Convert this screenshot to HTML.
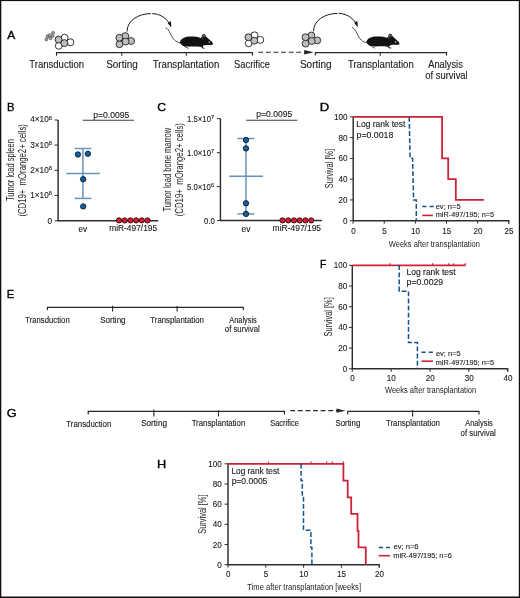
<!DOCTYPE html>
<html><head><meta charset="utf-8"><style>
html,body{margin:0;padding:0;background:#fff;}
svg{display:block;will-change:transform;}
text{font-family:"Liberation Sans",sans-serif;stroke:#1c1c1c;stroke-width:0.12px;}
</style></head><body>
<svg width="520" height="598" viewBox="0 0 520 598">
<rect width="520" height="598" fill="#fff"/>
<rect x="0" y="0" width="520" height="1.1" fill="#141012"/>
<rect x="0" y="0" width="1.3" height="598" fill="#141012"/>
<rect x="518.8" y="0" width="1.2" height="598" fill="#141012"/>
<rect x="0" y="596.5" width="520" height="1.5" fill="#141012"/>
<text x="7.33" y="38.70" font-size="11.5" fill="#000" textLength="7.95" lengthAdjust="spacingAndGlyphs" style="stroke:#000;stroke-width:0.34px">A</text>
<text x="7.08" y="110.80" font-size="11.5" fill="#000" textLength="7.52" lengthAdjust="spacingAndGlyphs" style="stroke:#000;stroke-width:0.34px">B</text>
<text x="157.23" y="110.70" font-size="11.5" fill="#000" textLength="8.78" lengthAdjust="spacingAndGlyphs" style="stroke:#000;stroke-width:0.34px">C</text>
<text x="319.87" y="110.80" font-size="11.5" fill="#000" textLength="9.51" lengthAdjust="spacingAndGlyphs" style="stroke:#000;stroke-width:0.34px">D</text>
<text x="6.63" y="297.70" font-size="11.5" fill="#000" textLength="7.51" lengthAdjust="spacingAndGlyphs" style="stroke:#000;stroke-width:0.34px">E</text>
<text x="320.09" y="268.10" font-size="11.5" fill="#000" textLength="6.37" lengthAdjust="spacingAndGlyphs" style="stroke:#000;stroke-width:0.34px">F</text>
<text x="6.71" y="417.20" font-size="11.5" fill="#000" textLength="9.89" lengthAdjust="spacingAndGlyphs" style="stroke:#000;stroke-width:0.34px">G</text>
<text x="157.11" y="468.00" font-size="11.5" fill="#000" textLength="9.18" lengthAdjust="spacingAndGlyphs" style="stroke:#000;stroke-width:0.34px">H</text>
<path d="M56.5,55.8 V52.6 H252.5 V55.6" stroke="#262626" stroke-width="1.15" fill="none"/>
<line x1="121.8" y1="52.6" x2="121.8" y2="55.8" stroke="#262626" stroke-width="1.0"/>
<line x1="186.3" y1="52.6" x2="186.3" y2="55.8" stroke="#262626" stroke-width="1.0"/>
<line x1="258.3" y1="52.25" x2="305" y2="52.25" stroke="#262626" stroke-width="1.2" stroke-dasharray="4.8 2.8"/>
<polygon points="304.2,50.1 313.6,52.25 304.2,54.4" fill="#262626"/>
<path d="M315.4,55.6 V52.6 H446.5 V55.6" stroke="#262626" stroke-width="1.15" fill="none"/>
<line x1="380.2" y1="52.6" x2="380.2" y2="55.8" stroke="#262626" stroke-width="1.0"/>
<circle cx="64.6" cy="37.7" r="3.45" fill="#fff" stroke="#2a2a2a" stroke-width="0.95"/>
<circle cx="70.4" cy="42.3" r="3.45" fill="#fff" stroke="#2a2a2a" stroke-width="0.95"/>
<circle cx="58.8" cy="45.8" r="3.45" fill="#fff" stroke="#2a2a2a" stroke-width="0.95"/>
<circle cx="64.4" cy="43.1" r="3.45" fill="#bdbec0" stroke="#2a2a2a" stroke-width="0.95"/>
<circle cx="58.5" cy="39.6" r="3.45" fill="#bdbec0" stroke="#2a2a2a" stroke-width="0.95"/>
<g fill="#a8a8a8" stroke="#333" stroke-width="0.6"><circle cx="53.1" cy="32.9" r="1.45"/><circle cx="52.6" cy="36.2" r="1.3"/><circle cx="50.5" cy="38.5" r="1.25"/><circle cx="46.4" cy="39.5" r="1.4"/><circle cx="47.6" cy="36.4" r="1.6"/><circle cx="49.6" cy="35.2" r="1.55"/></g>
<circle cx="125.3" cy="36.1" r="3.45" fill="#bdbec0" stroke="#2a2a2a" stroke-width="0.95"/>
<circle cx="131.1" cy="41" r="3.45" fill="#bdbec0" stroke="#2a2a2a" stroke-width="0.95"/>
<circle cx="119.5" cy="44.2" r="3.45" fill="#bdbec0" stroke="#2a2a2a" stroke-width="0.95"/>
<circle cx="119.4" cy="37.8" r="3.45" fill="#bdbec0" stroke="#2a2a2a" stroke-width="0.95"/>
<circle cx="125.6" cy="41.6" r="3.45" fill="#bdbec0" stroke="#2a2a2a" stroke-width="0.95"/>
<circle cx="254.5" cy="35.300000000000004" r="3.45" fill="#fff" stroke="#2a2a2a" stroke-width="0.95"/>
<circle cx="260.3" cy="39.9" r="3.45" fill="#fff" stroke="#2a2a2a" stroke-width="0.95"/>
<circle cx="248.7" cy="43.4" r="3.45" fill="#fff" stroke="#2a2a2a" stroke-width="0.95"/>
<circle cx="254.3" cy="40.7" r="3.45" fill="#bdbec0" stroke="#2a2a2a" stroke-width="0.95"/>
<circle cx="248.4" cy="37.2" r="3.45" fill="#bdbec0" stroke="#2a2a2a" stroke-width="0.95"/>
<circle cx="311.4" cy="35.50000000000001" r="3.45" fill="#bdbec0" stroke="#2a2a2a" stroke-width="0.95"/>
<circle cx="317.2" cy="40.400000000000006" r="3.45" fill="#bdbec0" stroke="#2a2a2a" stroke-width="0.95"/>
<circle cx="305.6" cy="43.60000000000001" r="3.45" fill="#bdbec0" stroke="#2a2a2a" stroke-width="0.95"/>
<circle cx="305.5" cy="37.2" r="3.45" fill="#bdbec0" stroke="#2a2a2a" stroke-width="0.95"/>
<circle cx="311.7" cy="41.00000000000001" r="3.45" fill="#bdbec0" stroke="#2a2a2a" stroke-width="0.95"/>
<g transform="translate(0,0)">
<path d="M127,31.6 C127,20.8 138,13.7 150.9,13.6" stroke="#1a1a1a" stroke-width="1.0" fill="none"/>
<path d="M152.2,13.62 C159.6,13.8 165.3,17.4 169.2,23" stroke="#1a1a1a" stroke-width="1.0" fill="none"/>
<polygon points="167.6,22.9 170.9,21.2 171.3,27.5" fill="#111"/>
<path d="M165.6,27.6 C167.5,28.5 169,30.5 170.3,33.3 C171.6,36.2 172.8,38.5 174.7,40.2 C176.3,41.6 178,42.5 180.5,42.9" stroke="#111" stroke-width="0.75" fill="none"/>
<path d="M179.9,42 C180.5,40 181.5,38.8 183.5,37.9 C185.5,37 188,36.6 191,36.6 C195,36.6 198,37 200.5,38 L201.6,37.2 C201.5,35.5 202.5,34 203.8,34 C205,34 205.8,35 206,36.5 C207.5,38 209.5,39.5 211,41 C212.2,42 213,43 213,44 C212.6,44.8 211.5,45.2 210,45.1 C208,45 205.5,45.1 203.5,45.6 L202.6,46.6 L203.3,47.7 L205,48 L204.7,48.6 L202.5,48.4 L201.2,47 C198,46.4 193,46.6 189.6,46.6 C187,46.6 185.3,46.5 184.2,46.2 C183.5,46.3 181.7,45.2 180.6,43.8 C180.2,43.2 180,42.6 179.9,42 Z" fill="#111"/>
<path d="M202.5,36.9 C202.7,35.6 203.4,34.9 204.2,35.2 C204.9,35.5 205,36.3 204.7,37" stroke="#ddd" stroke-width="0.55" fill="none"/>
<path d="M202.3,37.3 L202.9,39.4" stroke="#bbb" stroke-width="0.4" fill="none"/>
<ellipse cx="209.2" cy="42.1" rx="0.75" ry="0.6" fill="#fff"/>
<path d="M184,45.8 C185,46.8 186.3,47.7 188.6,48.3" stroke="#111" stroke-width="0.7" fill="none"/>
</g>
<g transform="translate(186.5,-0.2)">
<path d="M127,31.6 C127,20.8 138,13.7 150.9,13.6" stroke="#1a1a1a" stroke-width="1.0" fill="none"/>
<path d="M152.2,13.62 C159.6,13.8 165.3,17.4 169.2,23" stroke="#1a1a1a" stroke-width="1.0" fill="none"/>
<polygon points="167.6,22.9 170.9,21.2 171.3,27.5" fill="#111"/>
<path d="M165.6,27.6 C167.5,28.5 169,30.5 170.3,33.3 C171.6,36.2 172.8,38.5 174.7,40.2 C176.3,41.6 178,42.5 180.5,42.9" stroke="#111" stroke-width="0.75" fill="none"/>
<path d="M179.9,42 C180.5,40 181.5,38.8 183.5,37.9 C185.5,37 188,36.6 191,36.6 C195,36.6 198,37 200.5,38 L201.6,37.2 C201.5,35.5 202.5,34 203.8,34 C205,34 205.8,35 206,36.5 C207.5,38 209.5,39.5 211,41 C212.2,42 213,43 213,44 C212.6,44.8 211.5,45.2 210,45.1 C208,45 205.5,45.1 203.5,45.6 L202.6,46.6 L203.3,47.7 L205,48 L204.7,48.6 L202.5,48.4 L201.2,47 C198,46.4 193,46.6 189.6,46.6 C187,46.6 185.3,46.5 184.2,46.2 C183.5,46.3 181.7,45.2 180.6,43.8 C180.2,43.2 180,42.6 179.9,42 Z" fill="#111"/>
<path d="M202.5,36.9 C202.7,35.6 203.4,34.9 204.2,35.2 C204.9,35.5 205,36.3 204.7,37" stroke="#ddd" stroke-width="0.55" fill="none"/>
<path d="M202.3,37.3 L202.9,39.4" stroke="#bbb" stroke-width="0.4" fill="none"/>
<ellipse cx="209.2" cy="42.1" rx="0.75" ry="0.6" fill="#fff"/>
<path d="M184,45.8 C185,46.8 186.3,47.7 188.6,48.3" stroke="#111" stroke-width="0.7" fill="none"/>
</g>
<text x="29.29" y="67.70" font-size="10.2" fill="#1c1c1c" textLength="54.73" lengthAdjust="spacingAndGlyphs">Transduction</text>
<text x="106.15" y="67.70" font-size="10.2" fill="#1c1c1c" textLength="31.60" lengthAdjust="spacingAndGlyphs">Sorting</text>
<text x="152.78" y="67.60" font-size="10.2" fill="#1c1c1c" textLength="66.59" lengthAdjust="spacingAndGlyphs">Transplantation</text>
<text x="234.08" y="67.60" font-size="10.2" fill="#1c1c1c" textLength="35.84" lengthAdjust="spacingAndGlyphs">Sacrifice</text>
<text x="299.95" y="67.70" font-size="10.2" fill="#1c1c1c" textLength="31.70" lengthAdjust="spacingAndGlyphs">Sorting</text>
<text x="347.89" y="67.70" font-size="10.2" fill="#1c1c1c" textLength="65.94" lengthAdjust="spacingAndGlyphs">Transplantation</text>
<text x="428.28" y="67.70" font-size="10.2" fill="#1c1c1c" textLength="34.55" lengthAdjust="spacingAndGlyphs">Analysis</text>
<text x="425.20" y="78.80" font-size="10.2" fill="#1c1c1c" textLength="42.53" lengthAdjust="spacingAndGlyphs">of survival</text>
<path d="M58.1,119.9 V220.8 H158.2" stroke="#2e2e2e" stroke-width="1.45" fill="none"/>
<line x1="54.5" y1="120" x2="58.1" y2="120" stroke="#2e2e2e" stroke-width="1.0"/>
<line x1="54.5" y1="145.1" x2="58.1" y2="145.1" stroke="#2e2e2e" stroke-width="1.0"/>
<line x1="54.5" y1="170.3" x2="58.1" y2="170.3" stroke="#2e2e2e" stroke-width="1.0"/>
<line x1="54.5" y1="195.4" x2="58.1" y2="195.4" stroke="#2e2e2e" stroke-width="1.0"/>
<line x1="54.8" y1="220.8" x2="58.1" y2="220.8" stroke="#2e2e2e" stroke-width="1.0"/>
<text x="48.78" y="119.90" font-size="5.7" fill="#1c1c1c">8</text>
<text x="30.28" y="122.40" font-size="8.2" fill="#1c1c1c" textLength="18.47" lengthAdjust="spacingAndGlyphs">4×10</text>
<text x="48.78" y="145.00" font-size="5.7" fill="#1c1c1c">8</text>
<text x="30.28" y="147.50" font-size="8.2" fill="#1c1c1c" textLength="18.47" lengthAdjust="spacingAndGlyphs">3×10</text>
<text x="48.78" y="170.20" font-size="5.7" fill="#1c1c1c">8</text>
<text x="30.28" y="172.70" font-size="8.2" fill="#1c1c1c" textLength="18.47" lengthAdjust="spacingAndGlyphs">2×10</text>
<text x="48.78" y="195.30" font-size="5.7" fill="#1c1c1c">8</text>
<text x="30.28" y="197.80" font-size="8.2" fill="#1c1c1c" textLength="18.47" lengthAdjust="spacingAndGlyphs">1×10</text>
<text x="47.56" y="224.20" font-size="8.2" fill="#1c1c1c" textLength="4.56" lengthAdjust="spacingAndGlyphs">0</text>
<line x1="82.9" y1="148.5" x2="82.9" y2="198.4" stroke="#6593bb" stroke-width="1.5"/>
<line x1="74.6" y1="148.5" x2="91.3" y2="148.5" stroke="#6593bb" stroke-width="1.5"/>
<line x1="74.7" y1="198.4" x2="91.4" y2="198.4" stroke="#6593bb" stroke-width="1.5"/>
<line x1="66.3" y1="173.4" x2="99.8" y2="173.4" stroke="#6593bb" stroke-width="1.5"/>
<circle cx="77.9" cy="154.5" r="2.7" fill="#135f9f" stroke="#06101c" stroke-width="0.8"/>
<circle cx="87.9" cy="153.8" r="2.7" fill="#135f9f" stroke="#06101c" stroke-width="0.8"/>
<circle cx="83.2" cy="179.2" r="2.7" fill="#135f9f" stroke="#06101c" stroke-width="0.8"/>
<circle cx="83.2" cy="206.4" r="2.7" fill="#135f9f" stroke="#06101c" stroke-width="0.8"/>
<circle cx="119.0" cy="220.4" r="2.65" fill="#d61a33" stroke="#1c0508" stroke-width="0.8"/>
<circle cx="124.7" cy="220.4" r="2.65" fill="#d61a33" stroke="#1c0508" stroke-width="0.8"/>
<circle cx="130.4" cy="220.4" r="2.65" fill="#d61a33" stroke="#1c0508" stroke-width="0.8"/>
<circle cx="136.1" cy="220.4" r="2.65" fill="#d61a33" stroke="#1c0508" stroke-width="0.8"/>
<circle cx="141.8" cy="220.4" r="2.65" fill="#d61a33" stroke="#1c0508" stroke-width="0.8"/>
<circle cx="147.5" cy="220.4" r="2.65" fill="#d61a33" stroke="#1c0508" stroke-width="0.8"/>
<line x1="82.7" y1="120.2" x2="134" y2="120.2" stroke="#3a3a3a" stroke-width="1.1"/>
<text x="93.25" y="117.80" font-size="8.2" fill="#1c1c1c" textLength="36.12" lengthAdjust="spacingAndGlyphs">p=0.0095</text>
<text x="78.46" y="232.10" font-size="8.2" fill="#1c1c1c" textLength="8.57" lengthAdjust="spacingAndGlyphs">ev</text>
<text x="109.25" y="231.30" font-size="8.2" fill="#1c1c1c" textLength="47.81" lengthAdjust="spacingAndGlyphs">miR-497/195</text>
<text transform="translate(13.90,170.25) rotate(-90)" x="-30.82" y="0" font-size="10.2" fill="#1c1c1c" textLength="61.95" lengthAdjust="spacingAndGlyphs" style="stroke:none;white-space:pre">Tumor load spleen</text>
<text transform="translate(25.70,170.35) rotate(-90)" x="-46.23" y="0" font-size="10.2" fill="#1c1c1c" textLength="92.46" lengthAdjust="spacingAndGlyphs" style="stroke:none;white-space:pre">(CD19+  mOrange2+ cells)</text>
<path d="M220.45,118.6 V220.5 H321.9" stroke="#2e2e2e" stroke-width="1.45" fill="none"/>
<line x1="216.85" y1="118.7" x2="220.45" y2="118.7" stroke="#2e2e2e" stroke-width="1.0"/>
<line x1="216.85" y1="152.7" x2="220.45" y2="152.7" stroke="#2e2e2e" stroke-width="1.0"/>
<line x1="216.85" y1="186.6" x2="220.45" y2="186.6" stroke="#2e2e2e" stroke-width="1.0"/>
<line x1="217.0" y1="220.5" x2="220.45" y2="220.5" stroke="#2e2e2e" stroke-width="1.0"/>
<text x="211.02" y="119.10" font-size="5.7" fill="#1c1c1c">7</text>
<text x="186.97" y="121.60" font-size="8.2" fill="#1c1c1c" textLength="24.04" lengthAdjust="spacingAndGlyphs">1.5×10</text>
<text x="211.02" y="153.10" font-size="5.7" fill="#1c1c1c">7</text>
<text x="186.97" y="155.60" font-size="8.2" fill="#1c1c1c" textLength="24.04" lengthAdjust="spacingAndGlyphs">1.0×10</text>
<text x="210.98" y="187.00" font-size="5.7" fill="#1c1c1c">6</text>
<text x="186.93" y="189.50" font-size="8.2" fill="#1c1c1c" textLength="24.04" lengthAdjust="spacingAndGlyphs">5.0×10</text>
<text x="204.08" y="223.50" font-size="8.2" fill="#1c1c1c" textLength="10.83" lengthAdjust="spacingAndGlyphs">0.0</text>
<line x1="246" y1="138.5" x2="246" y2="213.9" stroke="#6593bb" stroke-width="1.5"/>
<line x1="237.3" y1="138.5" x2="254.4" y2="138.5" stroke="#6593bb" stroke-width="1.5"/>
<line x1="237.5" y1="213.9" x2="254.4" y2="213.9" stroke="#6593bb" stroke-width="1.5"/>
<line x1="229.1" y1="176.2" x2="263" y2="176.2" stroke="#6593bb" stroke-width="1.5"/>
<circle cx="246" cy="140" r="2.7" fill="#135f9f" stroke="#06101c" stroke-width="0.8"/>
<circle cx="246" cy="148.4" r="2.7" fill="#135f9f" stroke="#06101c" stroke-width="0.8"/>
<circle cx="246" cy="203.3" r="2.7" fill="#135f9f" stroke="#06101c" stroke-width="0.8"/>
<circle cx="246" cy="213.9" r="2.7" fill="#135f9f" stroke="#06101c" stroke-width="0.8"/>
<circle cx="282.5" cy="220.4" r="2.65" fill="#d61a33" stroke="#1c0508" stroke-width="0.8"/>
<circle cx="288.24" cy="220.4" r="2.65" fill="#d61a33" stroke="#1c0508" stroke-width="0.8"/>
<circle cx="293.98" cy="220.4" r="2.65" fill="#d61a33" stroke="#1c0508" stroke-width="0.8"/>
<circle cx="299.72" cy="220.4" r="2.65" fill="#d61a33" stroke="#1c0508" stroke-width="0.8"/>
<circle cx="305.46" cy="220.4" r="2.65" fill="#d61a33" stroke="#1c0508" stroke-width="0.8"/>
<circle cx="311.2" cy="220.4" r="2.65" fill="#d61a33" stroke="#1c0508" stroke-width="0.8"/>
<line x1="246" y1="120.3" x2="297.4" y2="120.3" stroke="#3a3a3a" stroke-width="1.1"/>
<text x="256.35" y="117.20" font-size="8.2" fill="#1c1c1c" textLength="35.81" lengthAdjust="spacingAndGlyphs">p=0.0095</text>
<text x="241.44" y="231.80" font-size="8.2" fill="#1c1c1c" textLength="8.99" lengthAdjust="spacingAndGlyphs">ev</text>
<text x="272.64" y="231.40" font-size="8.2" fill="#1c1c1c" textLength="48.42" lengthAdjust="spacingAndGlyphs">miR-497/195</text>
<text transform="translate(171.20,169.65) rotate(-90)" x="-41.92" y="0" font-size="10.2" fill="#1c1c1c" textLength="83.65" lengthAdjust="spacingAndGlyphs" style="stroke:none;white-space:pre">Tumor load bone marrow</text>
<text transform="translate(182.90,169.70) rotate(-90)" x="-46.58" y="0" font-size="10.2" fill="#1c1c1c" textLength="93.17" lengthAdjust="spacingAndGlyphs" style="stroke:none;white-space:pre">(CD19+  mOrange2+ cells)</text>
<path d="M353.2,116.60000000000001 V220.7 H508.8 V223.7" stroke="#2e2e2e" stroke-width="1.45" fill="none"/>
<line x1="349.8" y1="220.7" x2="353.2" y2="220.7" stroke="#2e2e2e" stroke-width="1.0"/>
<line x1="349.8" y1="199.94" x2="353.2" y2="199.94" stroke="#2e2e2e" stroke-width="1.0"/>
<line x1="349.8" y1="179.17999999999998" x2="353.2" y2="179.17999999999998" stroke="#2e2e2e" stroke-width="1.0"/>
<line x1="349.8" y1="158.42" x2="353.2" y2="158.42" stroke="#2e2e2e" stroke-width="1.0"/>
<line x1="349.8" y1="137.65999999999997" x2="353.2" y2="137.65999999999997" stroke="#2e2e2e" stroke-width="1.0"/>
<line x1="349.8" y1="116.89999999999998" x2="353.2" y2="116.89999999999998" stroke="#2e2e2e" stroke-width="1.0"/>
<line x1="353.1" y1="220.7" x2="353.1" y2="223.7" stroke="#2e2e2e" stroke-width="1.0"/>
<line x1="384.24" y1="220.7" x2="384.24" y2="223.7" stroke="#2e2e2e" stroke-width="1.0"/>
<line x1="415.38" y1="220.7" x2="415.38" y2="223.7" stroke="#2e2e2e" stroke-width="1.0"/>
<line x1="446.52000000000004" y1="220.7" x2="446.52000000000004" y2="223.7" stroke="#2e2e2e" stroke-width="1.0"/>
<line x1="477.66" y1="220.7" x2="477.66" y2="223.7" stroke="#2e2e2e" stroke-width="1.0"/>
<text x="343.02" y="223.75" font-size="8.6" fill="#1c1c1c" textLength="4.50" lengthAdjust="spacingAndGlyphs">0</text>
<text x="338.52" y="202.99" font-size="8.6" fill="#1c1c1c" textLength="8.99" lengthAdjust="spacingAndGlyphs">20</text>
<text x="338.52" y="182.23" font-size="8.6" fill="#1c1c1c" textLength="8.99" lengthAdjust="spacingAndGlyphs">40</text>
<text x="338.52" y="161.47" font-size="8.6" fill="#1c1c1c" textLength="8.99" lengthAdjust="spacingAndGlyphs">60</text>
<text x="338.52" y="140.71" font-size="8.6" fill="#1c1c1c" textLength="8.99" lengthAdjust="spacingAndGlyphs">80</text>
<text x="334.03" y="119.95" font-size="8.6" fill="#1c1c1c" textLength="13.49" lengthAdjust="spacingAndGlyphs">100</text>
<text x="351.15" y="233.70" font-size="8.6" fill="#1c1c1c" textLength="4.50" lengthAdjust="spacingAndGlyphs">0</text>
<text x="382.30" y="233.70" font-size="8.6" fill="#1c1c1c" textLength="4.50" lengthAdjust="spacingAndGlyphs">5</text>
<text x="411.03" y="233.70" font-size="8.6" fill="#1c1c1c" textLength="8.99" lengthAdjust="spacingAndGlyphs">10</text>
<text x="442.19" y="233.70" font-size="8.6" fill="#1c1c1c" textLength="8.99" lengthAdjust="spacingAndGlyphs">15</text>
<text x="473.42" y="233.70" font-size="8.6" fill="#1c1c1c" textLength="8.99" lengthAdjust="spacingAndGlyphs">20</text>
<text x="504.57" y="233.70" font-size="8.6" fill="#1c1c1c" textLength="8.99" lengthAdjust="spacingAndGlyphs">25</text>
<path d="M353.2,116.9 H442.1 V158.4 H448.2 V179.2 H455.8 V199.9 H483.9" stroke="#cc2238" stroke-width="1.8" fill="none"/>
<path d="M409.2,116.9 L410.1,158.2 H412.6 L413.6,199.9 H416.3 V220.7" stroke="#13528d" stroke-width="1.5" fill="none" stroke-dasharray="4.8 2.3"/>
<text x="356.20" y="127.30" font-size="8.2" fill="#1c1c1c" textLength="49.26" lengthAdjust="spacingAndGlyphs">Log rank test</text>
<text x="356.54" y="137.60" font-size="8.2" fill="#1c1c1c" textLength="36.74" lengthAdjust="spacingAndGlyphs">p=0.0018</text>
<text transform="translate(333.10,168.60) rotate(-90)" x="-19.54" y="0" font-size="10.4" fill="#1c1c1c" textLength="39.27" lengthAdjust="spacingAndGlyphs" style="stroke:none;white-space:pre">Survival [%]</text>
<text x="388.87" y="246.50" font-size="9.7" fill="#1c1c1c" textLength="91.02" lengthAdjust="spacingAndGlyphs" style="stroke:none">Weeks after transplantation</text>
<line x1="422.3" y1="206.5" x2="433.7" y2="206.5" stroke="#13528d" stroke-width="1.5" stroke-dasharray="4.2 3"/>
<line x1="422.3" y1="215.4" x2="432.9" y2="215.4" stroke="#cc2238" stroke-width="1.6"/>
<text x="435.68" y="209.10" font-size="8.0" fill="#1c1c1c" textLength="24.94" lengthAdjust="spacingAndGlyphs">ev; n=5</text>
<text x="435.71" y="217.00" font-size="8.0" fill="#1c1c1c" textLength="58.39" lengthAdjust="spacingAndGlyphs">miR-497/195; n=5</text>
<path d="M47.4,310 V307.3 H243.3 V310" stroke="#262626" stroke-width="1.15" fill="none"/>
<line x1="112.6" y1="305.8" x2="112.6" y2="311.6" stroke="#262626" stroke-width="1.1"/>
<line x1="177.1" y1="306" x2="177.1" y2="311.6" stroke="#262626" stroke-width="1.1"/>
<text x="25.23" y="323.20" font-size="8.2" fill="#1c1c1c" textLength="44.47" lengthAdjust="spacingAndGlyphs">Transduction</text>
<text x="100.13" y="323.40" font-size="8.2" fill="#1c1c1c" textLength="25.48" lengthAdjust="spacingAndGlyphs">Sorting</text>
<text x="150.33" y="323.30" font-size="8.2" fill="#1c1c1c" textLength="53.48" lengthAdjust="spacingAndGlyphs">Transplantation</text>
<text x="229.29" y="323.30" font-size="8.2" fill="#1c1c1c" textLength="27.48" lengthAdjust="spacingAndGlyphs">Analysis</text>
<text x="224.87" y="332.40" font-size="8.2" fill="#1c1c1c" textLength="34.84" lengthAdjust="spacingAndGlyphs">of survival</text>
<path d="M352.3,265.0 V368.8 H507.7 V371.8" stroke="#2e2e2e" stroke-width="1.45" fill="none"/>
<line x1="348.90000000000003" y1="368.8" x2="352.3" y2="368.8" stroke="#2e2e2e" stroke-width="1.0"/>
<line x1="348.90000000000003" y1="348.1" x2="352.3" y2="348.1" stroke="#2e2e2e" stroke-width="1.0"/>
<line x1="348.90000000000003" y1="327.40000000000003" x2="352.3" y2="327.40000000000003" stroke="#2e2e2e" stroke-width="1.0"/>
<line x1="348.90000000000003" y1="306.70000000000005" x2="352.3" y2="306.70000000000005" stroke="#2e2e2e" stroke-width="1.0"/>
<line x1="348.90000000000003" y1="286.0" x2="352.3" y2="286.0" stroke="#2e2e2e" stroke-width="1.0"/>
<line x1="348.90000000000003" y1="265.3" x2="352.3" y2="265.3" stroke="#2e2e2e" stroke-width="1.0"/>
<line x1="352.3" y1="368.8" x2="352.3" y2="371.8" stroke="#2e2e2e" stroke-width="1.0"/>
<line x1="391.15000000000003" y1="368.8" x2="391.15000000000003" y2="371.8" stroke="#2e2e2e" stroke-width="1.0"/>
<line x1="430.0" y1="368.8" x2="430.0" y2="371.8" stroke="#2e2e2e" stroke-width="1.0"/>
<line x1="468.85" y1="368.8" x2="468.85" y2="371.8" stroke="#2e2e2e" stroke-width="1.0"/>
<text x="342.72" y="371.85" font-size="8.6" fill="#1c1c1c" textLength="4.50" lengthAdjust="spacingAndGlyphs">0</text>
<text x="338.22" y="351.15" font-size="8.6" fill="#1c1c1c" textLength="8.99" lengthAdjust="spacingAndGlyphs">20</text>
<text x="338.22" y="330.45" font-size="8.6" fill="#1c1c1c" textLength="8.99" lengthAdjust="spacingAndGlyphs">40</text>
<text x="338.22" y="309.75" font-size="8.6" fill="#1c1c1c" textLength="8.99" lengthAdjust="spacingAndGlyphs">60</text>
<text x="338.22" y="289.05" font-size="8.6" fill="#1c1c1c" textLength="8.99" lengthAdjust="spacingAndGlyphs">80</text>
<text x="333.73" y="268.35" font-size="8.6" fill="#1c1c1c" textLength="13.49" lengthAdjust="spacingAndGlyphs">100</text>
<text x="350.35" y="380.60" font-size="8.6" fill="#1c1c1c" textLength="4.50" lengthAdjust="spacingAndGlyphs">0</text>
<text x="386.80" y="380.60" font-size="8.6" fill="#1c1c1c" textLength="8.99" lengthAdjust="spacingAndGlyphs">10</text>
<text x="425.76" y="380.60" font-size="8.6" fill="#1c1c1c" textLength="8.99" lengthAdjust="spacingAndGlyphs">20</text>
<text x="464.66" y="380.60" font-size="8.6" fill="#1c1c1c" textLength="8.99" lengthAdjust="spacingAndGlyphs">30</text>
<text x="503.57" y="380.60" font-size="8.6" fill="#1c1c1c" textLength="8.99" lengthAdjust="spacingAndGlyphs">40</text>
<path d="M352.3,265.3 H465.4" stroke="#cc2238" stroke-width="1.8" fill="none"/>
<line x1="390" y1="265.3" x2="390" y2="263.3" stroke="#cc2238" stroke-width="1.2"/>
<line x1="432.6" y1="265.3" x2="432.6" y2="263.3" stroke="#cc2238" stroke-width="1.2"/>
<line x1="448.9" y1="265.3" x2="448.9" y2="263.3" stroke="#cc2238" stroke-width="1.2"/>
<line x1="453.5" y1="265.3" x2="453.5" y2="263.3" stroke="#cc2238" stroke-width="1.2"/>
<line x1="465.4" y1="265.3" x2="465.4" y2="263.3" stroke="#cc2238" stroke-width="1.2"/>
<path d="M399.2,265.3 V291.2 H408.5 V342.6 H417.4 V368.8" stroke="#13528d" stroke-width="1.5" fill="none" stroke-dasharray="4.8 2.3"/>
<text x="406.50" y="275.30" font-size="8.2" fill="#1c1c1c" textLength="49.16" lengthAdjust="spacingAndGlyphs">Log rank test</text>
<text x="406.64" y="285.30" font-size="8.2" fill="#1c1c1c" textLength="36.57" lengthAdjust="spacingAndGlyphs">p=0.0029</text>
<text transform="translate(332.30,317.00) rotate(-90)" x="-19.54" y="0" font-size="10.4" fill="#1c1c1c" textLength="39.27" lengthAdjust="spacingAndGlyphs" style="stroke:none;white-space:pre">Survival [%]</text>
<text x="384.97" y="393.10" font-size="9.7" fill="#1c1c1c" textLength="91.22" lengthAdjust="spacingAndGlyphs" style="stroke:none">Weeks after transplantation</text>
<line x1="421.5" y1="352.3" x2="433" y2="352.3" stroke="#13528d" stroke-width="1.5" stroke-dasharray="4.2 3"/>
<line x1="421.5" y1="361.2" x2="433" y2="361.2" stroke="#cc2238" stroke-width="1.6"/>
<text x="435.88" y="355.80" font-size="8.0" fill="#1c1c1c" textLength="24.94" lengthAdjust="spacingAndGlyphs">ev; n=5</text>
<text x="435.71" y="364.60" font-size="8.0" fill="#1c1c1c" textLength="58.39" lengthAdjust="spacingAndGlyphs">miR-497/195; n=5</text>
<path d="M88.2,414.4 V411.35 H284.4 V414.4" stroke="#262626" stroke-width="1.15" fill="none"/>
<line x1="153.9" y1="409.6" x2="153.9" y2="416.5" stroke="#262626" stroke-width="1.1"/>
<line x1="218.5" y1="410.1" x2="218.5" y2="416.5" stroke="#262626" stroke-width="1.1"/>
<line x1="290.3" y1="410.7" x2="337.5" y2="410.7" stroke="#262626" stroke-width="1.2" stroke-dasharray="4.8 2.8"/>
<polygon points="336.5,408.6 345.6,410.7 336.5,412.8" fill="#262626"/>
<path d="M347.7,414.4 V411.35 H479 V414.4" stroke="#262626" stroke-width="1.15" fill="none"/>
<line x1="412.6" y1="410.1" x2="412.6" y2="416.5" stroke="#262626" stroke-width="1.1"/>
<text x="66.33" y="426.50" font-size="8.2" fill="#1c1c1c" textLength="44.98" lengthAdjust="spacingAndGlyphs">Transduction</text>
<text x="141.13" y="426.40" font-size="8.2" fill="#1c1c1c" textLength="25.90" lengthAdjust="spacingAndGlyphs">Sorting</text>
<text x="191.63" y="426.40" font-size="8.2" fill="#1c1c1c" textLength="53.68" lengthAdjust="spacingAndGlyphs">Transplantation</text>
<text x="270.26" y="426.40" font-size="8.2" fill="#1c1c1c" textLength="28.57" lengthAdjust="spacingAndGlyphs">Sacrifice</text>
<text x="335.44" y="426.40" font-size="8.2" fill="#1c1c1c" textLength="24.86" lengthAdjust="spacingAndGlyphs">Sorting</text>
<text x="385.92" y="426.30" font-size="8.2" fill="#1c1c1c" textLength="54.09" lengthAdjust="spacingAndGlyphs">Transplantation</text>
<text x="465.19" y="426.20" font-size="8.2" fill="#1c1c1c" textLength="27.58" lengthAdjust="spacingAndGlyphs">Analysis</text>
<text x="460.57" y="435.70" font-size="8.2" fill="#1c1c1c" textLength="35.15" lengthAdjust="spacingAndGlyphs">of survival</text>
<path d="M228,463.5 V564.7 H379.2 V567.7" stroke="#2e2e2e" stroke-width="1.45" fill="none"/>
<line x1="224.6" y1="564.7" x2="228" y2="564.7" stroke="#2e2e2e" stroke-width="1.0"/>
<line x1="224.6" y1="544.5200000000001" x2="228" y2="544.5200000000001" stroke="#2e2e2e" stroke-width="1.0"/>
<line x1="224.6" y1="524.34" x2="228" y2="524.34" stroke="#2e2e2e" stroke-width="1.0"/>
<line x1="224.6" y1="504.16" x2="228" y2="504.16" stroke="#2e2e2e" stroke-width="1.0"/>
<line x1="224.6" y1="483.98" x2="228" y2="483.98" stroke="#2e2e2e" stroke-width="1.0"/>
<line x1="224.6" y1="463.80000000000007" x2="228" y2="463.80000000000007" stroke="#2e2e2e" stroke-width="1.0"/>
<line x1="228.0" y1="564.7" x2="228.0" y2="567.7" stroke="#2e2e2e" stroke-width="1.0"/>
<line x1="265.8" y1="564.7" x2="265.8" y2="567.7" stroke="#2e2e2e" stroke-width="1.0"/>
<line x1="303.6" y1="564.7" x2="303.6" y2="567.7" stroke="#2e2e2e" stroke-width="1.0"/>
<line x1="341.4" y1="564.7" x2="341.4" y2="567.7" stroke="#2e2e2e" stroke-width="1.0"/>
<text x="217.32" y="567.75" font-size="8.6" fill="#1c1c1c" textLength="4.50" lengthAdjust="spacingAndGlyphs">0</text>
<text x="212.82" y="547.57" font-size="8.6" fill="#1c1c1c" textLength="8.99" lengthAdjust="spacingAndGlyphs">20</text>
<text x="212.82" y="527.39" font-size="8.6" fill="#1c1c1c" textLength="8.99" lengthAdjust="spacingAndGlyphs">40</text>
<text x="212.82" y="507.21" font-size="8.6" fill="#1c1c1c" textLength="8.99" lengthAdjust="spacingAndGlyphs">60</text>
<text x="212.82" y="487.03" font-size="8.6" fill="#1c1c1c" textLength="8.99" lengthAdjust="spacingAndGlyphs">80</text>
<text x="208.33" y="466.85" font-size="8.6" fill="#1c1c1c" textLength="13.49" lengthAdjust="spacingAndGlyphs">100</text>
<text x="226.05" y="577.20" font-size="8.6" fill="#1c1c1c" textLength="4.50" lengthAdjust="spacingAndGlyphs">0</text>
<text x="263.86" y="577.20" font-size="8.6" fill="#1c1c1c" textLength="4.50" lengthAdjust="spacingAndGlyphs">5</text>
<text x="299.25" y="577.20" font-size="8.6" fill="#1c1c1c" textLength="8.99" lengthAdjust="spacingAndGlyphs">10</text>
<text x="337.07" y="577.20" font-size="8.6" fill="#1c1c1c" textLength="8.99" lengthAdjust="spacingAndGlyphs">15</text>
<text x="374.96" y="577.20" font-size="8.6" fill="#1c1c1c" textLength="8.99" lengthAdjust="spacingAndGlyphs">20</text>
<path d="M228,463.8 H343.4 V480.7 H347.7 V497.3 H351.2 V513.9 H357.5 V530.8 H358.5 V547.4 H365.8 V564.7" stroke="#cc2238" stroke-width="1.8" fill="none"/>
<line x1="268.5" y1="463.8" x2="268.5" y2="461.6" stroke="#cc2238" stroke-width="1.2"/>
<line x1="311.1" y1="463.8" x2="311.1" y2="461.6" stroke="#cc2238" stroke-width="1.2"/>
<line x1="326.6" y1="463.8" x2="326.6" y2="461.6" stroke="#cc2238" stroke-width="1.2"/>
<line x1="332.3" y1="463.8" x2="332.3" y2="461.6" stroke="#cc2238" stroke-width="1.2"/>
<line x1="343.4" y1="463.8" x2="343.4" y2="461.6" stroke="#cc2238" stroke-width="1.2"/>
<path d="M301.1,463.8 V480.6 H302.3 V497.4 H303.5 V530.2 H310.9 V547.4 H311.9 V564.7" stroke="#13528d" stroke-width="1.5" fill="none" stroke-dasharray="4.8 2.3"/>
<text x="231.52" y="473.90" font-size="8.2" fill="#1c1c1c" textLength="47.84" lengthAdjust="spacingAndGlyphs">Log rank test</text>
<text x="231.65" y="484.10" font-size="8.2" fill="#1c1c1c" textLength="35.71" lengthAdjust="spacingAndGlyphs">p=0.0005</text>
<text transform="translate(206.30,514.20) rotate(-90)" x="-19.54" y="0" font-size="10.4" fill="#1c1c1c" textLength="39.27" lengthAdjust="spacingAndGlyphs" style="stroke:none;white-space:pre">Survival [%]</text>
<text x="247.33" y="589.80" font-size="9.7" fill="#1c1c1c" textLength="113.71" lengthAdjust="spacingAndGlyphs" style="stroke:none">Time after transplantation [weeks]</text>
<line x1="378.8" y1="547.5" x2="390" y2="547.5" stroke="#13528d" stroke-width="1.5" stroke-dasharray="4.2 3"/>
<line x1="378.8" y1="555.7" x2="390" y2="555.7" stroke="#cc2238" stroke-width="1.6"/>
<text x="393.48" y="549.00" font-size="8.0" fill="#1c1c1c" textLength="25.05" lengthAdjust="spacingAndGlyphs">ev; n=6</text>
<text x="393.31" y="557.70" font-size="8.0" fill="#1c1c1c" textLength="58.51" lengthAdjust="spacingAndGlyphs">miR-497/195; n=6</text>
</svg>
</body></html>
